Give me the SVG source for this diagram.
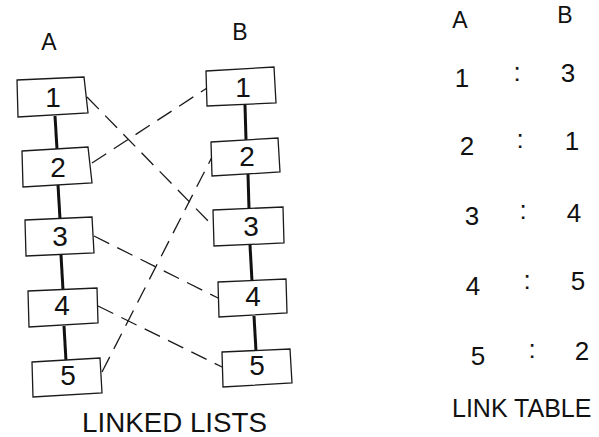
<svg xmlns="http://www.w3.org/2000/svg" width="599" height="437" viewBox="0 0 599 437">
<style>
.bg{fill:#fff}
.box{fill:#fff;stroke:#1a1a1a;stroke-width:1.3}
.chain{stroke:#111;stroke-width:3;fill:none;stroke-linecap:butt}
.link{stroke:#1a1a1a;stroke-width:1.3;fill:none;stroke-dasharray:17 9}
text{font-family:"Liberation Sans",Arial,sans-serif;fill:#111}
.num{font-size:28px;text-anchor:middle}
.hdr{font-size:23px;text-anchor:middle}
.tbl{font-size:26px;text-anchor:middle}
.cap{font-size:27px}
.cap2{font-size:25px}
</style>
<rect class="bg" x="0" y="0" width="599" height="437"/>
<g id="chains">
<line class="chain" x1="55" y1="116" x2="57" y2="149"/>
<line class="chain" x1="58" y1="185" x2="60" y2="219"/>
<line class="chain" x1="61" y1="255" x2="63" y2="290"/>
<line class="chain" x1="64" y1="326" x2="66" y2="361"/>
<line class="chain" x1="245" y1="105" x2="246" y2="140"/>
<line class="chain" x1="248" y1="174" x2="249" y2="209"/>
<line class="chain" x1="250" y1="245" x2="252" y2="281"/>
<line class="chain" x1="254" y1="316" x2="256" y2="351"/>
</g>
<g id="connectors">
<line class="link" x1="87" y1="97" x2="213" y2="226"/>
<line class="link" x1="92" y1="163" x2="207" y2="88"/>
<line class="link" x1="94" y1="236" x2="218" y2="298"/>
<line class="link" x1="98" y1="306" x2="222" y2="367"/>
<line class="link" x1="102" y1="372" x2="212" y2="157"/>
</g>
<g id="nodeA1"><polygon class="box" points="17,80 84,77 88,113 18,117"/><text class="num" x="53" y="107">1</text></g>
<g id="nodeA2"><polygon class="box" points="22,151 88,147 92,183 23,187"/><text class="num" x="58" y="177">2</text></g>
<g id="nodeA3"><polygon class="box" points="25,220 92,217 94,253 26,256"/><text class="num" x="60" y="246">3</text></g>
<g id="nodeA4"><polygon class="box" points="28,291 97,288 98,323 29,327"/><text class="num" x="62" y="315">4</text></g>
<g id="nodeA5"><polygon class="box" points="32,362 100,358 102,393 33,397"/><text class="num" x="68" y="385">5</text></g>
<g id="nodeB1"><polygon class="box" points="206,71 274,67 276,103 207,106"/><text class="num" x="243" y="97">1</text></g>
<g id="nodeB2"><polygon class="box" points="211,142 278,138 280,172 212,176"/><text class="num" x="247" y="166">2</text></g>
<g id="nodeB3"><polygon class="box" points="213,210 283,207 284,243 214,246"/><text class="num" x="251" y="236">3</text></g>
<g id="nodeB4"><polygon class="box" points="218,282 286,279 287,313 219,317"/><text class="num" x="253" y="306">4</text></g>
<g id="nodeB5"><polygon class="box" points="222,352 290,349 292,383 223,387"/><text class="num" x="257" y="375">5</text></g>
<g id="labels">
<text class="hdr" x="49" y="50">A</text>
<text class="hdr" x="240" y="40">B</text>
<text class="cap" x="82" y="432" textLength="185" lengthAdjust="spacingAndGlyphs">LINKED LISTS</text>
</g>
<g id="linktable">
<text class="hdr" x="460" y="28">A</text>
<text class="hdr" x="565" y="23">B</text>
<text class="tbl" x="462" y="87">1</text><text class="tbl" x="517" y="81">:</text><text class="tbl" x="568" y="82">3</text>
<text class="tbl" x="467" y="155">2</text><text class="tbl" x="520" y="148">:</text><text class="tbl" x="572" y="150">1</text>
<text class="tbl" x="472" y="225">3</text><text class="tbl" x="523" y="219">:</text><text class="tbl" x="574" y="222">4</text>
<text class="tbl" x="473" y="295">4</text><text class="tbl" x="527" y="289">:</text><text class="tbl" x="578" y="290">5</text>
<text class="tbl" x="478" y="365">5</text><text class="tbl" x="532" y="358">:</text><text class="tbl" x="582" y="360">2</text>
<text class="cap2" x="452" y="417">LINK TABLE</text>
</g>
</svg>
